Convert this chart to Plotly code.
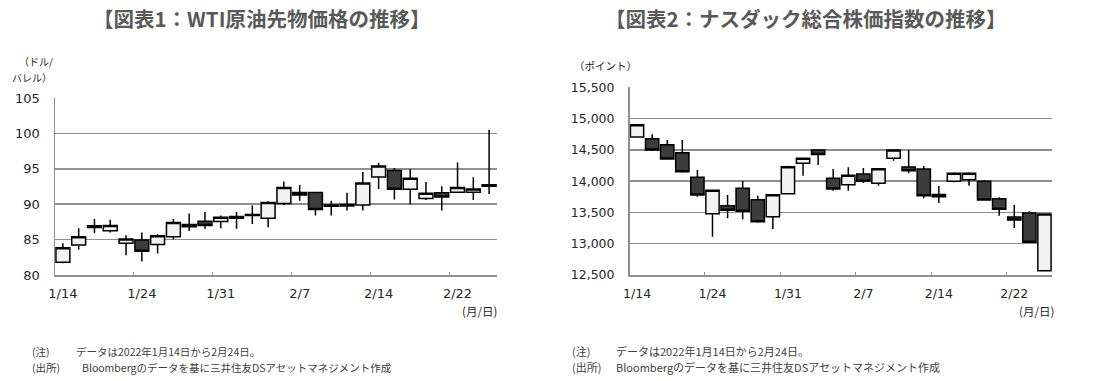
import plotly.graph_objects as go

# ---------------- data ----------------
dates = ["1/14", "1/18", "1/19", "1/20", "1/21", "1/24", "1/25", "1/26", "1/27", "1/28",
         "1/31", "2/1", "2/2", "2/3", "2/4", "2/7", "2/8", "2/9", "2/10", "2/11",
         "2/14", "2/15", "2/16", "2/17", "2/18", "2/22", "2/23", "2/24"]
tick_labels = ["1/14", "1/24", "1/31", "2/7", "2/14", "2/22"]

wti_open = [81.8, 84.25, 86.7, 86.25, 84.5, 84.95, 84.3, 85.4, 87.15, 87.6,
            87.55, 88.25, 88.55, 88.0, 90.1, 91.65, 91.65, 89.9, 89.95, 89.9,
            93.85, 94.75, 92.1, 90.8, 91.6, 91.7, 91.7, 92.55]
wti_high = [84.5, 86.6, 87.9, 87.8, 85.6, 86.0, 85.75, 87.9, 88.7, 88.9,
            88.4, 88.9, 89.8, 90.4, 93.2, 92.7, 91.7, 90.5, 91.6, 94.55,
            95.85, 95.1, 94.95, 93.15, 92.55, 95.9, 93.8, 100.5]
wti_low = [81.65, 83.6, 85.9, 86.0, 82.8, 81.9, 83.05, 85.0, 86.2, 86.55,
           86.6, 86.55, 87.2, 86.75, 89.9, 90.5, 88.4, 88.4, 89.1, 89.1,
           92.15, 90.65, 89.95, 90.6, 89.1, 91.7, 90.6, 91.45]
wti_close = [83.85, 85.4, 86.95, 87.0, 85.1, 83.35, 85.55, 87.4, 86.8, 87.0,
             88.15, 88.0, 88.4, 90.25, 92.35, 91.3, 89.25, 89.7, 89.75, 93.0,
             95.4, 92.1, 93.65, 91.55, 91.0, 92.35, 92.15, 92.75]

ndq_open = [14706, 14679, 14583, 14455, 14061, 13480, 13608, 13885, 13704, 13432,
            13800, 14285, 14498, 14045, 13944, 14114, 13965, 14365, 14226, 14194,
            13785, 13997, 14024, 13997, 13720, 13427, 13491, 12569]
ndq_high = [14910, 14749, 14658, 14658, 14178, 13864, 13779, 14003, 13768, 13784,
            14248, 14365, 14498, 14194, 14221, 14210, 14200, 14498, 14498, 14242,
            13923, 14141, 14141, 14018, 13741, 13619, 13518, 13475]
ndq_low = [14700, 14482, 14349, 14136, 13752, 13113, 13406, 13390, 13336, 13235,
           13789, 14088, 14258, 13848, 13848, 13971, 13928, 14328, 14125, 13725,
           13651, 13981, 13928, 13688, 13448, 13251, 13022, 12569]
ndq_close = [14900, 14498, 14354, 14152, 13779, 13853, 13534, 13518, 13352, 13784,
             14232, 14365, 14424, 13875, 14093, 13997, 14200, 14498, 14168, 13768,
             13750, 14125, 14125, 13699, 13550, 13379, 13022, 13475]

wti_yticks = [80, 85, 90, 95, 100, 105]
ndq_yticks = [12500, 13000, 13500, 14000, 14500, 15000, 15500]

# ---------------- figure ----------------
W, H = 1099, 381
x = list(range(len(dates)))
tick_idx = [dates.index(t) for t in tick_labels]

GRID = "#8f8f8f"
TXT = "#262626"

style = dict(
    increasing=dict(fillcolor="#f2f2f2", line=dict(color="#000000", width=1.5)),
    decreasing=dict(fillcolor="#3c3c3c", line=dict(color="#000000", width=1.5)),
    whiskerwidth=0, showlegend=False, hoverinfo="skip",
)

fig = go.Figure()
fig.add_trace(go.Candlestick(x=x, open=wti_open, high=wti_high, low=wti_low, close=wti_close,
                             xaxis="x", yaxis="y", **style))
fig.add_trace(go.Candlestick(x=x, open=ndq_open, high=ndq_high, low=ndq_low, close=ndq_close,
                             xaxis="x2", yaxis="y2", **style))


def px(v):
    return v / W


def py(v):
    return 1 - v / H


def xaxis(domain, anchor, size):
    return dict(
        domain=domain, anchor=anchor, range=[-0.5, len(dates) - 0.5],
        tickmode="array", tickvals=tick_idx, ticktext=tick_labels, ticks="",
        ticklabelstandoff=6, automargin=False,
        tickfont=dict(family="DejaVu Sans", size=size, color=TXT),
        showgrid=False, zeroline=False, showline=True, linecolor=GRID, linewidth=1.5,
        minor=dict(tickmode="array", tickvals=[i - 0.5 for i in tick_idx if i > 0],
                   ticks="inside", ticklen=3, tickcolor=GRID, tickwidth=1, showgrid=False),
        rangeslider=dict(visible=False), fixedrange=True,
    )


def yaxis(domain, anchor, rng, ticks, size, fmt=None):
    d = dict(
        domain=domain, anchor=anchor, range=rng, tickmode="array", tickvals=ticks,
        ticks="", ticklabelstandoff=11, automargin=False,
        tickfont=dict(family="DejaVu Sans", size=size, color=TXT),
        showgrid=True, gridcolor=GRID, gridwidth=1.5, zeroline=False,
        showline=True, linecolor=GRID, linewidth=1.5, fixedrange=True,
    )
    if fmt:
        d["tickformat"] = fmt
    return d


fig.update_layout(
    width=W, height=H, margin=dict(l=0, r=0, t=0, b=0, pad=0, autoexpand=False),
    paper_bgcolor="white", plot_bgcolor="white", boxgap=0.12, boxgroupgap=0,
    xaxis=xaxis([px(55), px(497)], "y", 13),
    yaxis=yaxis([py(275), py(98)], "x", [80, 105], wti_yticks, 13),
    xaxis2=xaxis([px(629.5), px(1052)], "y2", 12.5),
    yaxis2=yaxis([py(275), py(87.3)], "x2", [12500, 15500], ndq_yticks, 12.5, ",d"),
)

JP = "Noto Sans CJK JP"
anns = []


def ann(text, xp, yp, size, color=TXT, xanchor="center"):
    anns.append(dict(text=text, x=px(xp), y=py(yp), xref="paper", yref="paper",
                     xanchor=xanchor, yanchor="middle", showarrow=False,
                     font=dict(family=JP, size=size, color=color)))


# titles
ann("<b>【図表1：WTI原油先物価格の推移】</b>", 261, 18, 20.5, "#595959")
ann("<b>【図表2：ナスダック総合株価指数の推移】</b>", 806, 18, 20.5, "#595959")
# axis unit labels
ann("（ドル/", 36, 62, 10)
ann("バレル）", 32, 78, 10)
ann("（ポイント）", 605, 65, 10.5)
ann("(月/日)", 479, 311, 11.5)
ann("(月/日)", 1036, 311, 11.5)
# notes
NOTE = "#404040"
ann("(注)", 30, 351, 10.5, NOTE, "left")
ann("データは2022年1月14日から2月24日。", 74, 351, 10.5, NOTE, "left")
ann("(出所)", 30, 367, 10.5, NOTE, "left")
ann("Bloombergのデータを基に三井住友DSアセットマネジメント作成", 80, 367, 10.5, NOTE, "left")
ann("(注)", 570, 351, 11, NOTE, "left")
ann("データは2022年1月14日から2月24日。", 614, 351, 11, NOTE, "left")
ann("(出所)", 570, 367, 11, NOTE, "left")
ann("Bloombergのデータを基に三井住友DSアセットマネジメント作成", 614, 367, 11, NOTE, "left")

fig.update_layout(annotations=anns)
fig.write_html("out.html", config={"displayModeBar": False, "staticPlot": True},
               post_script="document.body.style.margin='0';document.body.style.overflow='hidden';")
